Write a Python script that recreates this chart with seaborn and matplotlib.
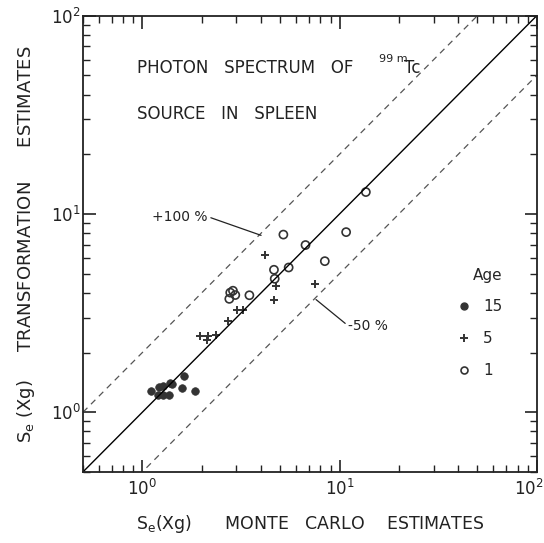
import numpy as np
import pandas as pd
import matplotlib
matplotlib.use("Agg")
import matplotlib.pyplot as plt
from matplotlib.ticker import LogLocator, NullFormatter, FixedLocator
from matplotlib.lines import Line2D
from matplotlib.transforms import ScaledTranslation
import seaborn as sns

# ---- data ----
age15_x = [1.63, 1.85, 1.58, 1.36, 1.38, 1.42, 1.22, 1.27, 1.11, 1.20, 1.27]
age15_y = [1.53, 1.28, 1.33, 1.22, 1.41, 1.38, 1.34, 1.36, 1.28, 1.22, 1.22]

age5_x = [4.20, 4.78, 4.65, 7.54, 3.02, 3.25, 2.73, 1.95, 2.15, 2.36, 2.12]
age5_y = [6.18, 4.35, 3.70, 4.45, 3.26, 3.26, 2.87, 2.41, 2.41, 2.46, 2.32]

age1_x = [13.6, 10.8, 5.19, 6.72, 8.42, 5.52, 4.65, 4.69, 3.49, 2.79, 2.96, 2.76, 2.88]
age1_y = [12.9, 8.1, 7.87, 6.97, 5.78, 5.37, 5.23, 4.71, 3.89, 4.01, 3.90, 3.73, 4.10]

ref_x = [0.5, 100.0]
ratios = {"+100 %": 2.0, "identity": 1.0, "-50 %": 0.5}

major_ticks = [1, 10, 100]
major_labels = [r"$10^0$", r"$10^1$", r"$10^2$"]

title_lines = ["PHOTON   SPECTRUM   OF", "SOURCE   IN   SPLEEN"]
x_label = r"S$_\mathregular{e}$(Xg)      MONTE   CARLO    ESTIMATES"
y_label = r"S$_\mathregular{e}$ (Xg)     TRANSFORMATION      ESTIMATES"

df15 = pd.DataFrame({"x": age15_x, "y": age15_y})
df5 = pd.DataFrame({"x": age5_x, "y": age5_y})
df1 = pd.DataFrame({"x": age1_x, "y": age1_y})

sns.set_theme(style="ticks")
plt.rcParams["font.family"] = ["DejaVu Sans"]
plt.rcParams["mathtext.default"] = "regular"

fig = plt.figure(figsize=(5.44, 5.43), dpi=100)
ax = fig.add_axes([0.1526, 0.131, 0.834, 0.840])

# reference lines
refdf = pd.DataFrame({"x": ref_x})
sns.lineplot(x=refdf["x"], y=refdf["x"] * ratios["identity"], ax=ax,
             color="black", lw=1.0)
sns.lineplot(x=refdf["x"], y=refdf["x"] * ratios["+100 %"], ax=ax,
             color="#555555", lw=0.9, linestyle=(0, (5, 4)))
sns.lineplot(x=refdf["x"], y=refdf["x"] * ratios["-50 %"], ax=ax,
             color="#555555", lw=0.9, linestyle=(0, (5, 4)))

sns.scatterplot(data=df15, x="x", y="y", ax=ax, marker="o", s=30,
                color="#333333", edgecolor="#333333", linewidth=0.5)
sns.scatterplot(data=df5, x="x", y="y", ax=ax, marker="+", s=40,
                color="#333333", linewidth=1.4)
sns.scatterplot(data=df1, x="x", y="y", ax=ax, marker="o", s=34,
                facecolor="none", edgecolor="#333333", linewidth=1.2)

ax.set_xscale("log")
ax.set_yscale("log")
ax.set_xlim(0.5, 100)
ax.set_ylim(0.5, 100)

ax.set_xticks(major_ticks, major_labels)
ax.set_yticks(major_ticks, major_labels)
for axis in (ax.xaxis, ax.yaxis):
    axis.set_minor_locator(LogLocator(base=10, subs=np.arange(2, 10), numticks=20))
    axis.set_minor_formatter(NullFormatter())

ax.tick_params(which="both", direction="in", top=True, right=True,
               color="#222222", labelsize=12, labelcolor="#222222")
ax.tick_params(which="major", length=9, width=1.2)
ax.tick_params(which="minor", length=5, width=1.0)
ax.tick_params(axis="x", pad=5)
ax.tick_params(axis="y", pad=1.5)
for sp in ax.spines.values():
    sp.set_linewidth(1.3)
    sp.set_color("#222222")

ax.set_xlabel(x_label, fontsize=12.5, color="#222222", labelpad=10)
ax.set_ylabel(y_label, fontsize=13, color="#222222", labelpad=10)

# shift the last x tick label inward so it stays in the picture
lab = ax.get_xticklabels()[-1]
lab.set_transform(lab.get_transform() + ScaledTranslation(-8 / 100, 0, fig.dpi_scale_trans))

# annotations
ax.text(0.12, 0.885, title_lines[0], transform=ax.transAxes, fontsize=12,
        color="#222222", va="center", ha="left")
ax.text(0.652, 0.905, "99 m", transform=ax.transAxes, fontsize=8,
        color="#222222", va="center", ha="left")
ax.text(0.708, 0.885, "Tc", transform=ax.transAxes, fontsize=12,
        color="#222222", va="center", ha="left")
ax.text(0.12, 0.785, title_lines[1], transform=ax.transAxes, fontsize=12,
        color="#222222", va="center", ha="left")

ax.annotate("+100 %", xy=(4.0, 7.8), xytext=(1.12, 9.7), fontsize=10,
            color="#222222", va="center", ha="left",
            arrowprops=dict(arrowstyle="-", color="#222222", lw=0.9,
                            shrinkA=0, shrinkB=0, relpos=(1.0, 0.5)))
ax.annotate("-50 %", xy=(7.6, 3.7), xytext=(11.1, 2.72), fontsize=10,
            color="#222222", va="center", ha="left",
            arrowprops=dict(arrowstyle="-", color="#222222", lw=0.9,
                            shrinkA=0, shrinkB=0, relpos=(0.0, 0.5)))

handles = [
    Line2D([], [], marker="o", linestyle="none", markersize=5,
           markerfacecolor="#333333", markeredgecolor="#333333"),
    Line2D([], [], marker="+", linestyle="none", markersize=6,
           markeredgewidth=1.4, color="#333333"),
    Line2D([], [], marker="o", linestyle="none", markersize=5,
           markerfacecolor="none", markeredgecolor="#333333", markeredgewidth=1.2),
]
leg = ax.legend(handles, ["15", "5", "1"], title="Age", frameon=False,
                loc="upper left", bbox_to_anchor=(0.792, 0.478),
                fontsize=11, title_fontsize=11, labelspacing=1.1,
                handletextpad=0.75, handlelength=1.0, alignment="right")

fig.savefig("out.png", dpi=100)
